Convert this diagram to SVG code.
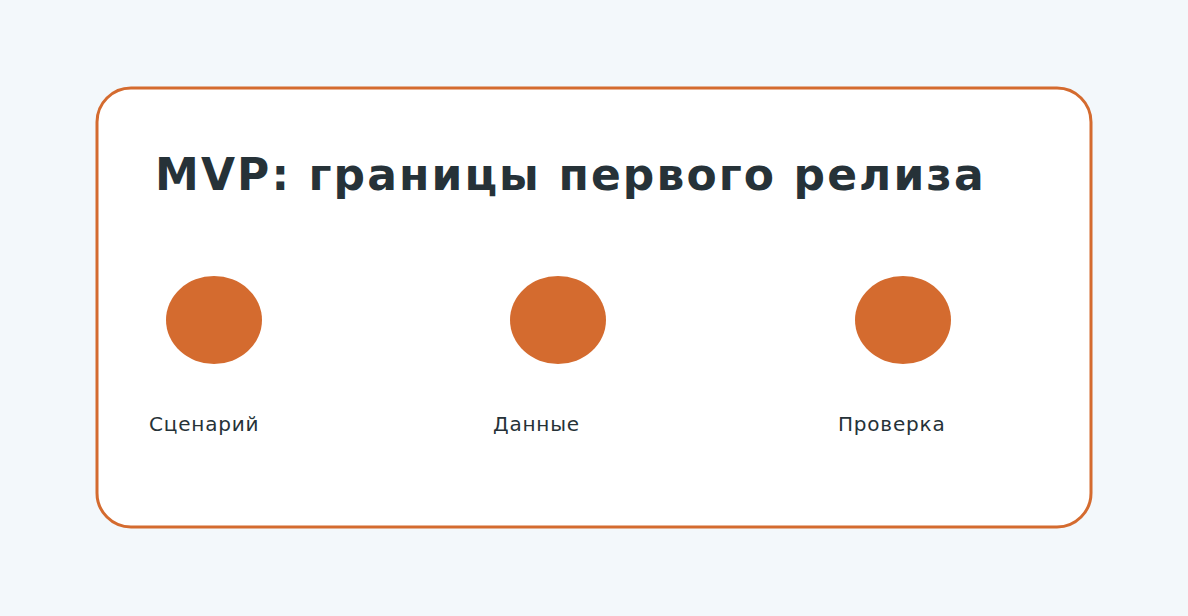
<svg xmlns="http://www.w3.org/2000/svg" width="1188" height="616" viewBox="0 0 1188 616">
<style>
.dot{fill:#D46B2F}
.lbl{font-family:"DejaVu Sans",sans-serif;font-size:20px;letter-spacing:0.8px;fill:#263238}
.title{font-family:"DejaVu Sans",sans-serif;font-size:44px;font-weight:bold;letter-spacing:2.1px;fill:#263238}
</style>
<rect x="0" y="0" width="1188" height="616" fill="#F3F8FB"/>
<g id="frame">
<rect x="97" y="88" width="994" height="439" rx="34" ry="34" fill="#FFFFFF" stroke="#D46B2F" stroke-width="3"/>
<text class="title" x="155" y="190">MVP: границы первого релиза</text>
</g>
<g id="connectors"></g>
<g id="node-scenario">
<ellipse class="dot" cx="214" cy="320" rx="48" ry="44"/>
<text class="lbl" x="149" y="431">Сценарий</text>
</g>
<g id="node-data">
<ellipse class="dot" cx="558" cy="320" rx="48" ry="44"/>
<text class="lbl" x="493" y="431">Данные</text>
</g>
<g id="node-check">
<ellipse class="dot" cx="903" cy="320" rx="48" ry="44"/>
<text class="lbl" x="838" y="431">Проверка</text>
</g>
</svg>
